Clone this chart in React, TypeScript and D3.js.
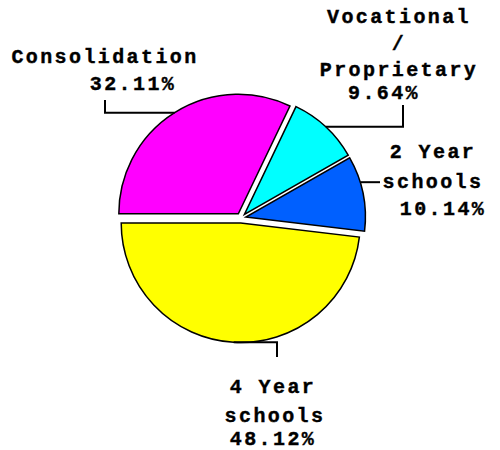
import React from "react";
import * as d3 from "d3";

const categories = ["Consolidation", "Vocational / Proprietary", "2 Year schools", "4 Year schools"];
const values = [32.11, 9.64, 10.14, 48.12];
const percentLabels = ["32.11%", "9.64%", "10.14%", "48.12%"];
const colors = ["#ff00ff", "#00ffff", "#0060ff", "#ffff00"];
// label text lines (multi-line labels) and their positions
const labelLines = [
  ["Consolidation", "32.11%"],
  ["Vocational", "/", "Proprietary", "9.64%"],
  ["2 Year", "schools", "10.14%"],
  ["4 Year", "schools", "48.12%"],
];
const labelXs = [
  [105, 133],
  [399, 399, 399, 384],
  [433, 433, 443],
  [273, 275, 273],
];
const labelYs = [
  [63, 90],
  [23, 50, 76, 99],
  [158, 188, 215],
  [393, 422, 445],
];
// leader lines: fraction along slice for anchor, elbow x, end y (null = no vertical)
const anchorFrac = [0.5, 0.5, 0.35, 0.5];
const elbowX = [105, 403, 380, 277];
const endY: (number | null)[] = [100, 105, null, 357];

const W = 500;
const H = 450;
const cx = 241;
const cy = 218;
const R = 119.5;
const explode = 5;

export default function App() {
  const pie = d3
    .pie<number>()
    .sort(null)
    .startAngle(-Math.PI / 2)
    .endAngle((3 * Math.PI) / 2)
    .value((d) => d);
  const arcs = pie(values);
  const arcGen = d3.arc<d3.PieArcDatum<number>>().innerRadius(0).outerRadius(R);

  return (
    <svg
      width={W}
      height={H}
      style={{ position: "absolute", left: 0, top: 0, background: "#fff" }}
    >
      {arcs.map((a, i) => {
        const mid = (a.startAngle + a.endAngle) / 2;
        const ox = cx + explode * Math.sin(mid);
        const oy = cy - explode * Math.cos(mid);
        const anc = a.startAngle + (a.endAngle - a.startAngle) * anchorFrac[i];
        const ax = ox + R * Math.sin(anc);
        const ay = oy - R * Math.cos(anc);
        const pts: [number, number][] = [
          [ax, ay],
          [elbowX[i], ay],
        ];
        const ey = endY[i];
        if (ey !== null) pts.push([elbowX[i], ey]);
        return (
          <g key={categories[i]}>
            <path
              d={arcGen(a) || ""}
              transform={`translate(${ox},${oy})`}
              fill={colors[i]}
              stroke="#000"
              strokeWidth={1.5}
            />
            <path
              d={d3.line()(pts) || ""}
              fill="none"
              stroke="#000"
              strokeWidth={2}
            />
          </g>
        );
      })}
      {labelLines.map((lines, i) => (
        <g key={"lab" + i} aria-label={`${categories[i]} ${percentLabels[i]}`}>
          {lines.map((t, j) => (
            <text
              key={j}
              x={labelXs[i][j]}
              y={labelYs[i][j]}
              textAnchor="middle"
              fontFamily="'Liberation Mono', monospace"
              fontWeight="bold"
              fontSize={20}
              letterSpacing={2.4}
              fill="#000"
              stroke="#000"
              strokeWidth={0.4}
            >
              {t}
            </text>
          ))}
        </g>
      ))}
    </svg>
  );
}
